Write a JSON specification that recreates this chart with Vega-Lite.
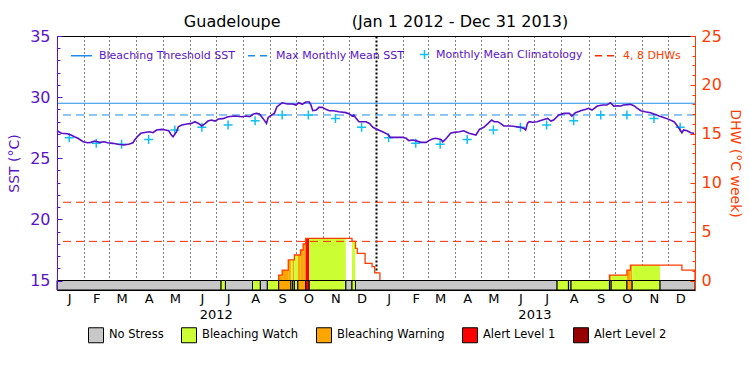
{
  "$schema": "https://vega.github.io/schema/vega-lite/v6.json",
  "width": 638,
  "height": 254,
  "autosize": "none",
  "padding": {"left": 57, "top": 36, "right": 55, "bottom": 85},
  "background": "white",
  "config": {
    "font": "DejaVu Sans",
    "view": {"stroke": "black", "strokeWidth": 1},
    "axis": {"labelFont": "DejaVu Sans", "titleFont": "DejaVu Sans", "titleFontWeight": "normal", "grid": false},
    "legend": {"labelFont": "DejaVu Sans"}
  },
  "title": {
    "text": "Guadeloupe\u00a0\u00a0\u00a0\u00a0\u00a0\u00a0\u00a0\u00a0\u00a0\u00a0\u00a0\u00a0\u00a0\u00a0(Jan 1 2012 - Dec 31 2013)",
    "fontSize": 16,
    "fontWeight": "normal",
    "color": "black",
    "font": "DejaVu Sans",
    "anchor": "middle",
    "offset": -2
  },
  "datasets": {
    "sst": [
      {"d": "2012-01-01", "v": 27.25}, {"d": "2012-01-06", "v": 27.04}, {"d": "2012-01-13", "v": 27.0}, {"d": "2012-01-17", "v": 26.9},
      {"d": "2012-01-21", "v": 26.76}, {"d": "2012-01-25", "v": 26.63}, {"d": "2012-01-31", "v": 26.35}, {"d": "2012-02-05", "v": 26.27},
      {"d": "2012-02-09", "v": 26.3}, {"d": "2012-02-13", "v": 26.41}, {"d": "2012-02-19", "v": 26.3}, {"d": "2012-02-24", "v": 26.35},
      {"d": "2012-02-28", "v": 26.27}, {"d": "2012-03-05", "v": 26.22}, {"d": "2012-03-11", "v": 26.14}, {"d": "2012-03-18", "v": 26.08},
      {"d": "2012-03-24", "v": 26.16}, {"d": "2012-03-28", "v": 26.27}, {"d": "2012-03-30", "v": 26.49}, {"d": "2012-04-02", "v": 26.76},
      {"d": "2012-04-06", "v": 27.04}, {"d": "2012-04-12", "v": 27.12}, {"d": "2012-04-16", "v": 27.17}, {"d": "2012-04-20", "v": 27.09},
      {"d": "2012-04-24", "v": 27.31}, {"d": "2012-04-30", "v": 27.36}, {"d": "2012-05-04", "v": 27.31}, {"d": "2012-05-08", "v": 27.25},
      {"d": "2012-05-11", "v": 26.9}, {"d": "2012-05-13", "v": 26.76}, {"d": "2012-05-17", "v": 27.17}, {"d": "2012-05-19", "v": 27.58},
      {"d": "2012-05-23", "v": 27.72}, {"d": "2012-05-29", "v": 27.8}, {"d": "2012-06-03", "v": 27.85}, {"d": "2012-06-07", "v": 27.99},
      {"d": "2012-06-11", "v": 27.85}, {"d": "2012-06-15", "v": 27.64}, {"d": "2012-06-19", "v": 27.85}, {"d": "2012-06-22", "v": 28.04},
      {"d": "2012-06-26", "v": 28.13}, {"d": "2012-06-30", "v": 28.04}, {"d": "2012-07-04", "v": 28.21}, {"d": "2012-07-09", "v": 28.24},
      {"d": "2012-07-15", "v": 28.4}, {"d": "2012-07-23", "v": 28.45}, {"d": "2012-07-31", "v": 28.4}, {"d": "2012-08-05", "v": 28.45},
      {"d": "2012-08-09", "v": 28.4}, {"d": "2012-08-13", "v": 28.62}, {"d": "2012-08-17", "v": 28.67}, {"d": "2012-08-20", "v": 28.62},
      {"d": "2012-08-24", "v": 28.26}, {"d": "2012-08-28", "v": 27.85}, {"d": "2012-08-30", "v": 28.34}, {"d": "2012-09-03", "v": 28.54},
      {"d": "2012-09-06", "v": 28.67}, {"d": "2012-09-09", "v": 29.22}, {"d": "2012-09-15", "v": 29.54}, {"d": "2012-09-21", "v": 29.44},
      {"d": "2012-09-27", "v": 29.44}, {"d": "2012-10-01", "v": 29.35}, {"d": "2012-10-04", "v": 29.54}, {"d": "2012-10-08", "v": 29.41},
      {"d": "2012-10-12", "v": 29.6}, {"d": "2012-10-16", "v": 29.6}, {"d": "2012-10-18", "v": 29.35}, {"d": "2012-10-20", "v": 28.89},
      {"d": "2012-10-24", "v": 28.94}, {"d": "2012-10-27", "v": 29.16}, {"d": "2012-10-31", "v": 29.16}, {"d": "2012-11-04", "v": 29.0},
      {"d": "2012-11-08", "v": 28.89}, {"d": "2012-11-13", "v": 28.89}, {"d": "2012-11-19", "v": 28.81}, {"d": "2012-11-27", "v": 28.73},
      {"d": "2012-12-01", "v": 28.62}, {"d": "2012-12-04", "v": 28.45}, {"d": "2012-12-06", "v": 28.54}, {"d": "2012-12-08", "v": 28.34},
      {"d": "2012-12-12", "v": 27.99}, {"d": "2012-12-20", "v": 27.99}, {"d": "2012-12-24", "v": 27.85}, {"d": "2012-12-28", "v": 27.53},
      {"d": "2013-01-02", "v": 27.36}, {"d": "2013-01-08", "v": 27.17}, {"d": "2013-01-14", "v": 26.95}, {"d": "2013-01-17", "v": 26.71},
      {"d": "2013-01-23", "v": 26.71}, {"d": "2013-01-31", "v": 26.71}, {"d": "2013-02-04", "v": 26.63}, {"d": "2013-02-07", "v": 26.44},
      {"d": "2013-02-11", "v": 26.49}, {"d": "2013-02-15", "v": 26.44}, {"d": "2013-02-21", "v": 26.3}, {"d": "2013-02-27", "v": 26.3},
      {"d": "2013-03-02", "v": 26.44}, {"d": "2013-03-06", "v": 26.57}, {"d": "2013-03-10", "v": 26.63}, {"d": "2013-03-16", "v": 26.54},
      {"d": "2013-03-18", "v": 26.35}, {"d": "2013-03-21", "v": 26.54}, {"d": "2013-03-27", "v": 27.04}, {"d": "2013-03-31", "v": 27.12},
      {"d": "2013-04-06", "v": 27.17}, {"d": "2013-04-11", "v": 27.25}, {"d": "2013-04-17", "v": 27.04}, {"d": "2013-04-25", "v": 26.9},
      {"d": "2013-04-29", "v": 27.36}, {"d": "2013-05-04", "v": 27.53}, {"d": "2013-05-09", "v": 27.85}, {"d": "2013-05-13", "v": 28.13},
      {"d": "2013-05-16", "v": 27.99}, {"d": "2013-05-20", "v": 27.99}, {"d": "2013-05-23", "v": 27.85}, {"d": "2013-05-27", "v": 27.64},
      {"d": "2013-06-04", "v": 27.64}, {"d": "2013-06-11", "v": 27.58}, {"d": "2013-06-15", "v": 27.53}, {"d": "2013-06-19", "v": 27.44},
      {"d": "2013-06-21", "v": 27.31}, {"d": "2013-06-23", "v": 27.85}, {"d": "2013-06-25", "v": 27.99}, {"d": "2013-06-29", "v": 27.94},
      {"d": "2013-07-04", "v": 27.99}, {"d": "2013-07-10", "v": 28.13}, {"d": "2013-07-16", "v": 28.26}, {"d": "2013-07-20", "v": 28.04},
      {"d": "2013-07-23", "v": 28.13}, {"d": "2013-07-29", "v": 28.54}, {"d": "2013-08-04", "v": 28.67}, {"d": "2013-08-10", "v": 28.67},
      {"d": "2013-08-13", "v": 28.45}, {"d": "2013-08-17", "v": 28.73}, {"d": "2013-08-23", "v": 28.89}, {"d": "2013-08-29", "v": 29.0},
      {"d": "2013-09-01", "v": 29.08}, {"d": "2013-09-05", "v": 28.94}, {"d": "2013-09-11", "v": 29.27}, {"d": "2013-09-17", "v": 29.35},
      {"d": "2013-09-22", "v": 29.35}, {"d": "2013-09-26", "v": 29.54}, {"d": "2013-09-30", "v": 29.27}, {"d": "2013-10-04", "v": 29.3},
      {"d": "2013-10-08", "v": 29.27}, {"d": "2013-10-11", "v": 29.35}, {"d": "2013-10-19", "v": 29.41}, {"d": "2013-10-23", "v": 29.3},
      {"d": "2013-10-27", "v": 29.08}, {"d": "2013-10-31", "v": 28.89}, {"d": "2013-11-05", "v": 28.81}, {"d": "2013-11-11", "v": 28.73},
      {"d": "2013-11-15", "v": 28.62}, {"d": "2013-11-21", "v": 28.45}, {"d": "2013-11-26", "v": 28.34}, {"d": "2013-12-02", "v": 28.18},
      {"d": "2013-12-08", "v": 27.99}, {"d": "2013-12-11", "v": 27.72}, {"d": "2013-12-15", "v": 27.31}, {"d": "2013-12-17", "v": 27.09},
      {"d": "2013-12-19", "v": 27.31}, {"d": "2013-12-23", "v": 27.25}, {"d": "2013-12-27", "v": 27.09}, {"d": "2013-12-31", "v": 27.04}
    ],
    "clim": [
      {"d": "2012-01-15", "v": 26.68}, {"d": "2012-02-15", "v": 26.22}, {"d": "2012-03-15", "v": 26.14}, {"d": "2012-04-15", "v": 26.54},
      {"d": "2012-05-15", "v": 27.31}, {"d": "2012-06-15", "v": 27.53}, {"d": "2012-07-15", "v": 27.72}, {"d": "2012-08-15", "v": 28.07},
      {"d": "2012-09-15", "v": 28.54}, {"d": "2012-10-15", "v": 28.54}, {"d": "2012-11-15", "v": 28.26}, {"d": "2012-12-15", "v": 27.53},
      {"d": "2013-01-15", "v": 26.68}, {"d": "2013-02-15", "v": 26.22}, {"d": "2013-03-15", "v": 26.14}, {"d": "2013-04-15", "v": 26.54},
      {"d": "2013-05-15", "v": 27.31}, {"d": "2013-06-15", "v": 27.53}, {"d": "2013-07-15", "v": 27.72}, {"d": "2013-08-15", "v": 28.07},
      {"d": "2013-09-15", "v": 28.54}, {"d": "2013-10-15", "v": 28.54}, {"d": "2013-11-15", "v": 28.26}, {"d": "2013-12-15", "v": 27.53}
    ],
    "status": [
      {"s": "2012-01-01", "e": "2012-07-07", "st": "No Stress"},
      {"s": "2012-07-07", "e": "2012-07-12", "st": "Bleaching Watch"},
      {"s": "2012-07-12", "e": "2012-08-12", "st": "No Stress"},
      {"s": "2012-08-12", "e": "2012-08-21", "st": "Bleaching Watch"},
      {"s": "2012-08-21", "e": "2012-08-29", "st": "No Stress"},
      {"s": "2012-08-29", "e": "2012-09-11", "st": "Bleaching Watch"},
      {"s": "2012-09-11", "e": "2012-09-25", "st": "Bleaching Warning"},
      {"s": "2012-09-25", "e": "2012-09-27", "st": "Bleaching Watch"},
      {"s": "2012-09-27", "e": "2012-09-29", "st": "Bleaching Warning"},
      {"s": "2012-09-29", "e": "2012-10-03", "st": "Bleaching Watch"},
      {"s": "2012-10-03", "e": "2012-10-12", "st": "Bleaching Warning"},
      {"s": "2012-10-12", "e": "2012-10-16", "st": "Alert Level 1"},
      {"s": "2012-10-16", "e": "2012-11-27", "st": "Bleaching Watch"},
      {"s": "2012-11-27", "e": "2012-12-04", "st": "No Stress"},
      {"s": "2012-12-04", "e": "2012-12-08", "st": "Bleaching Watch"},
      {"s": "2012-12-08", "e": "2013-07-27", "st": "No Stress"},
      {"s": "2013-07-27", "e": "2013-08-09", "st": "Bleaching Watch"},
      {"s": "2013-08-09", "e": "2013-08-12", "st": "No Stress"},
      {"s": "2013-08-12", "e": "2013-09-25", "st": "Bleaching Watch"},
      {"s": "2013-09-25", "e": "2013-09-27", "st": "Bleaching Warning"},
      {"s": "2013-09-27", "e": "2013-10-15", "st": "Bleaching Watch"},
      {"s": "2013-10-15", "e": "2013-10-21", "st": "Bleaching Warning"},
      {"s": "2013-10-21", "e": "2013-11-22", "st": "Bleaching Watch"},
      {"s": "2013-11-22", "e": "2014-01-01", "st": "No Stress"}
    ],
    "dhwfill": [
      {"s": "2012-09-11", "e": "2012-09-15", "dhw": 0.56, "st": "Bleaching Warning"},
      {"s": "2012-09-15", "e": "2012-09-22", "dhw": 1.07, "st": "Bleaching Warning"},
      {"s": "2012-09-22", "e": "2012-09-25", "dhw": 2.1, "st": "Bleaching Warning"},
      {"s": "2012-09-25", "e": "2012-09-27", "dhw": 2.1, "st": "Bleaching Watch"},
      {"s": "2012-09-27", "e": "2012-09-29", "dhw": 2.1, "st": "Bleaching Warning"},
      {"s": "2012-09-29", "e": "2012-10-03", "dhw": 2.61, "st": "Bleaching Watch"},
      {"s": "2012-10-03", "e": "2012-10-06", "dhw": 2.61, "st": "Bleaching Warning"},
      {"s": "2012-10-06", "e": "2012-10-09", "dhw": 3.12, "st": "Bleaching Warning"},
      {"s": "2012-10-09", "e": "2012-10-12", "dhw": 3.73, "st": "Bleaching Warning"},
      {"s": "2012-10-12", "e": "2012-10-16", "dhw": 4.31, "st": "Alert Level 1"},
      {"s": "2012-10-16", "e": "2012-11-27", "dhw": 4.31, "st": "Bleaching Watch"},
      {"s": "2012-11-27", "e": "2012-12-04", "dhw": 4.31, "st": "No Stress"},
      {"s": "2012-12-04", "e": "2012-12-08", "dhw": 4.0, "st": "Bleaching Watch"},
      {"s": "2012-12-08", "e": "2012-12-10", "dhw": 3.29, "st": "No Stress"},
      {"s": "2012-12-10", "e": "2012-12-19", "dhw": 2.78, "st": "No Stress"},
      {"s": "2012-12-19", "e": "2012-12-27", "dhw": 1.76, "st": "No Stress"},
      {"s": "2012-12-27", "e": "2012-12-30", "dhw": 1.41, "st": "No Stress"},
      {"s": "2012-12-30", "e": "2013-01-05", "dhw": 0.78, "st": "No Stress"},
      {"s": "2013-09-25", "e": "2013-09-27", "dhw": 0.56, "st": "Bleaching Warning"},
      {"s": "2013-09-27", "e": "2013-10-15", "dhw": 0.56, "st": "Bleaching Watch"},
      {"s": "2013-10-15", "e": "2013-10-19", "dhw": 1.07, "st": "Bleaching Warning"},
      {"s": "2013-10-19", "e": "2013-10-21", "dhw": 1.58, "st": "Bleaching Warning"},
      {"s": "2013-10-21", "e": "2013-11-22", "dhw": 1.58, "st": "Bleaching Watch"},
      {"s": "2013-11-22", "e": "2013-12-17", "dhw": 1.58, "st": "No Stress"},
      {"s": "2013-12-17", "e": "2014-01-01", "dhw": 1.07, "st": "No Stress"}
    ],
    "dhwline": [
      {"d": "2012-09-11", "dhw": 0, "ev": "a"}, {"d": "2012-09-11", "dhw": 0.56, "ev": "a"}, {"d": "2012-09-15", "dhw": 1.07, "ev": "a"},
      {"d": "2012-09-22", "dhw": 2.1, "ev": "a"}, {"d": "2012-09-29", "dhw": 2.61, "ev": "a"}, {"d": "2012-10-06", "dhw": 3.12, "ev": "a"},
      {"d": "2012-10-09", "dhw": 3.73, "ev": "a"}, {"d": "2012-10-12", "dhw": 4.31, "ev": "a"}, {"d": "2012-12-04", "dhw": 4.0, "ev": "a"},
      {"d": "2012-12-08", "dhw": 3.29, "ev": "a"}, {"d": "2012-12-10", "dhw": 2.78, "ev": "a"}, {"d": "2012-12-19", "dhw": 1.76, "ev": "a"},
      {"d": "2012-12-27", "dhw": 1.41, "ev": "a"}, {"d": "2012-12-30", "dhw": 0.78, "ev": "a"}, {"d": "2013-01-05", "dhw": 0, "ev": "a"},
      {"d": "2013-09-25", "dhw": 0, "ev": "b"}, {"d": "2013-09-25", "dhw": 0.56, "ev": "b"}, {"d": "2013-10-15", "dhw": 1.07, "ev": "b"},
      {"d": "2013-10-19", "dhw": 1.58, "ev": "b"}, {"d": "2013-12-17", "dhw": 1.07, "ev": "b"}, {"d": "2014-01-01", "dhw": 0, "ev": "b"}
    ]
  },
  "layer": [
    {
      "data": {"name": "dhwfill"},
      "mark": {"type": "rect", "strokeWidth": 0},
      "encoding": {
        "x": {"field": "s", "type": "temporal",
          "scale": {"type": "utc", "nice": false, "domain": [{"year": 2012, "month": 1, "date": 1, "utc": true}, {"year": 2014, "month": 1, "date": 1, "utc": true}]},
          "axis": {"orient": "bottom", "grid": true, "gridColor": "black", "gridDash": [1, 3], "gridWidth": 1, "gridOpacity": 1,
            "labels": false, "ticks": false, "domain": false, "title": null, "zindex": 0,
            "values": [
              {"year": 2012, "month": 2, "date": 1, "utc": true}, {"year": 2012, "month": 3, "date": 1, "utc": true}, {"year": 2012, "month": 4, "date": 1, "utc": true},
              {"year": 2012, "month": 5, "date": 1, "utc": true}, {"year": 2012, "month": 6, "date": 1, "utc": true}, {"year": 2012, "month": 7, "date": 1, "utc": true},
              {"year": 2012, "month": 8, "date": 1, "utc": true}, {"year": 2012, "month": 9, "date": 1, "utc": true}, {"year": 2012, "month": 10, "date": 1, "utc": true},
              {"year": 2012, "month": 11, "date": 1, "utc": true}, {"year": 2012, "month": 12, "date": 1, "utc": true},
              {"year": 2013, "month": 2, "date": 1, "utc": true}, {"year": 2013, "month": 3, "date": 1, "utc": true}, {"year": 2013, "month": 4, "date": 1, "utc": true},
              {"year": 2013, "month": 5, "date": 1, "utc": true}, {"year": 2013, "month": 6, "date": 1, "utc": true}, {"year": 2013, "month": 7, "date": 1, "utc": true},
              {"year": 2013, "month": 8, "date": 1, "utc": true}, {"year": 2013, "month": 9, "date": 1, "utc": true}, {"year": 2013, "month": 10, "date": 1, "utc": true},
              {"year": 2013, "month": 11, "date": 1, "utc": true}, {"year": 2013, "month": 12, "date": 1, "utc": true}
            ]}},
        "x2": {"field": "e"},
        "y": {"field": "dhw", "type": "quantitative",
          "scale": {"domain": [-0.971, 25], "nice": false, "zero": false},
          "axis": {"orient": "right", "values": [0,1,2,3,4,5,6,7,8,9,10,11,12,13,14,15,16,17,18,19,20,21,22,23,24,25],
            "labels": false, "domain": false, "tickSize": -3, "tickColor": "#ff3c00", "title": null, "grid": false, "zindex": 1}},
        "y2": {"datum": 0},
        "color": {"field": "st", "type": "nominal", "legend": null,
          "scale": {"domain": ["No Stress", "Bleaching Watch", "Bleaching Warning", "Alert Level 1"],
                    "range": ["#ffffff", "#ccff33", "#ffa500", "#ff0000"]}}
      }
    },
    {
      "data": {"values": [{"v": 29.5}]},
      "mark": {"type": "rule", "strokeWidth": 1},
      "encoding": {
        "y": {"field": "v", "type": "quantitative", "scale": {"domain": [14.223, 35], "nice": false, "zero": false}, "axis": null},
        "stroke": {"datum": "Bleaching Threshold SST",
          "scale": {"domain": ["Bleaching Threshold SST", "Max Monthly Mean SST", "Monthly Mean Climatology", "4, 8 DHWs"],
                    "range": ["#1e8ce8", "#1e8ce8", "#10c0f0", "#ff2a00"]},
          "legend": {"orient": "none", "legendX": 13, "legendY": 7, "direction": "horizontal", "title": null,
            "labelFontSize": 11, "labelFont": "DejaVu Sans", "symbolStrokeWidth": 1.5, "symbolSize": 440, "symbolType": "stroke",
            "columnPadding": 9, "labelOffset": 6,
            "encode": {
              "symbols": {"update": {
                "shape": {"signal": "datum.value === 'Monthly Mean Climatology' ? 'M-1,0L1,0M0,-1L0,1' : 'stroke'"},
                "size": {"signal": "datum.value === 'Monthly Mean Climatology' ? 81 : 440"},
                "strokeDash": {"signal": "(datum.value === 'Max Monthly Mean SST' || datum.value === '4, 8 DHWs') ? [7, 5] : [30, 0]"}
              }},
              "labels": {"update": {
                "fill": {"signal": "datum.value === '4, 8 DHWs' ? '#ff3c00' : '#5a14c8'"},
                "dx": {"signal": "datum.value === 'Monthly Mean Climatology' ? -6 : 0"}
              }}
            }}}
      }
    },
    {
      "data": {"values": [{"v": 28.54}]},
      "mark": {"type": "rule", "strokeWidth": 1, "strokeDash": [8, 5]},
      "encoding": {
        "y": {"field": "v", "type": "quantitative", "scale": {"domain": [14.223, 35], "nice": false, "zero": false}, "axis": null},
        "stroke": {"datum": "Max Monthly Mean SST"}
      }
    },
    {
      "data": {"values": [{"v": 4}, {"v": 8}]},
      "mark": {"type": "rule", "strokeWidth": 1, "strokeDash": [8, 5]},
      "encoding": {
        "y": {"field": "v", "type": "quantitative", "scale": {"domain": [-0.971, 25], "nice": false, "zero": false}, "axis": null},
        "stroke": {"datum": "4, 8 DHWs"}
      }
    },
    {
      "data": {"name": "dhwline"},
      "mark": {"type": "line", "interpolate": "step-after", "strokeWidth": 1.3, "color": "#ff3c00"},
      "encoding": {
        "x": {"field": "d", "type": "temporal",
          "scale": {"type": "utc", "nice": false, "domain": [{"year": 2012, "month": 1, "date": 1, "utc": true}, {"year": 2014, "month": 1, "date": 1, "utc": true}]},
          "axis": {"orient": "bottom", "grid": true, "gridColor": "black", "gridDash": [2, 2], "gridWidth": 2, "gridOpacity": 1,
            "labels": false, "ticks": false, "domain": false, "title": null, "zindex": 0,
            "values": [{"year": 2013, "month": 1, "date": 1, "utc": true}]}},
        "y": {"field": "dhw", "type": "quantitative",
          "scale": {"domain": [-0.971, 25], "nice": false, "zero": false},
          "axis": {"orient": "right", "values": [0, 5, 10, 15, 20, 25], "title": "DHW (°C week)", "titleColor": "#ff3c00", "titleFontSize": 14,
            "titlePadding": 6, "labelColor": "#ff3c00", "labelFontSize": 16, "labelPadding": 11, "tickSize": -5, "tickColor": "#ff3c00",
            "domainColor": "#ff3c00", "grid": false, "zindex": 1}},
        "detail": {"field": "ev"}
      }
    },
    {
      "data": {"name": "status"},
      "mark": {"type": "rect", "stroke": "black", "strokeWidth": 1},
      "encoding": {
        "x": {"field": "s", "type": "temporal",
          "scale": {"type": "utc", "nice": false, "domain": [{"year": 2012, "month": 1, "date": 1, "utc": true}, {"year": 2014, "month": 1, "date": 1, "utc": true}]},
          "axis": null},
        "x2": {"field": "e"},
        "y": {"datum": -0.971, "type": "quantitative", "scale": {"domain": [-0.971, 25], "nice": false, "zero": false}, "axis": null},
        "y2": {"datum": 0},
        "fill": {"field": "st", "type": "nominal",
          "scale": {"domain": ["No Stress", "Bleaching Watch", "Bleaching Warning", "Alert Level 1", "Alert Level 2"],
                    "range": ["#c8c8c8", "#ccff33", "#ffa500", "#ff0000", "#960000"]},
          "legend": {"orient": "none", "legendX": 31, "legendY": 291, "direction": "horizontal", "title": null,
            "symbolType": "square", "symbolSize": 225, "symbolStrokeColor": "black", "symbolStrokeWidth": 1, "symbolOpacity": 1,
            "labelFontSize": 11.5, "labelOffset": 5, "columnPadding": 15, "labelColor": "black"}}
      }
    },
    {
      "data": {"name": "clim"},
      "mark": {"type": "point", "shape": "M-1,0L1,0M0,-1L0,1", "size": 81, "strokeWidth": 1.5, "filled": false, "opacity": 1},
      "encoding": {
        "x": {"field": "d", "type": "temporal",
          "scale": {"type": "utc", "nice": false, "domain": [{"year": 2012, "month": 1, "date": 1, "utc": true}, {"year": 2014, "month": 1, "date": 1, "utc": true}]},
          "axis": {"orient": "bottom", "values": [{"year": 2012, "month": 7, "date": 1, "utc": true}, {"year": 2013, "month": 7, "date": 1, "utc": true}],
            "labelExpr": "utcFormat(datum.value, '%Y')", "labelPadding": 18, "labelFontSize": 13, "labelColor": "black",
            "ticks": false, "domain": false, "grid": false, "title": null, "labelFlush": false, "labelOverlap": false}},
        "y": {"field": "v", "type": "quantitative",
          "scale": {"domain": [14.223, 35], "nice": false, "zero": false},
          "axis": {"orient": "left", "values": [15,16,17,18,19,20,21,22,23,24,25,26,27,28,29,30,31,32,33,34,35],
            "labels": false, "domain": false, "tickSize": -3, "tickColor": "#5a14c8", "title": null, "grid": false, "zindex": 1}},
        "stroke": {"datum": "Monthly Mean Climatology"}
      }
    },
    {
      "data": {"name": "sst"},
      "mark": {"type": "line", "strokeWidth": 1.6, "color": "#5a0fc8"},
      "encoding": {
        "x": {"field": "d", "type": "temporal",
          "scale": {"type": "utc", "nice": false, "domain": [{"year": 2012, "month": 1, "date": 1, "utc": true}, {"year": 2014, "month": 1, "date": 1, "utc": true}]},
          "axis": {"orient": "bottom",
            "values": [
              {"year": 2012, "month": 1, "date": 15, "utc": true}, {"year": 2012, "month": 2, "date": 15, "utc": true}, {"year": 2012, "month": 3, "date": 15, "utc": true},
              {"year": 2012, "month": 4, "date": 15, "utc": true}, {"year": 2012, "month": 5, "date": 15, "utc": true}, {"year": 2012, "month": 6, "date": 15, "utc": true},
              {"year": 2012, "month": 7, "date": 15, "utc": true}, {"year": 2012, "month": 8, "date": 15, "utc": true}, {"year": 2012, "month": 9, "date": 15, "utc": true},
              {"year": 2012, "month": 10, "date": 15, "utc": true}, {"year": 2012, "month": 11, "date": 15, "utc": true}, {"year": 2012, "month": 12, "date": 15, "utc": true},
              {"year": 2013, "month": 1, "date": 15, "utc": true}, {"year": 2013, "month": 2, "date": 15, "utc": true}, {"year": 2013, "month": 3, "date": 15, "utc": true},
              {"year": 2013, "month": 4, "date": 15, "utc": true}, {"year": 2013, "month": 5, "date": 15, "utc": true}, {"year": 2013, "month": 6, "date": 15, "utc": true},
              {"year": 2013, "month": 7, "date": 15, "utc": true}, {"year": 2013, "month": 8, "date": 15, "utc": true}, {"year": 2013, "month": 9, "date": 15, "utc": true},
              {"year": 2013, "month": 10, "date": 15, "utc": true}, {"year": 2013, "month": 11, "date": 15, "utc": true}, {"year": 2013, "month": 12, "date": 15, "utc": true}
            ],
            "labelExpr": "substring(utcFormat(datum.value, '%b'), 0, 1)", "labelPadding": 2, "labelFontSize": 13, "labelColor": "black",
            "ticks": false, "domain": false, "grid": false, "title": null, "labelFlush": false, "labelOverlap": false}},
        "y": {"field": "v", "type": "quantitative",
          "scale": {"domain": [14.223, 35], "nice": false, "zero": false},
          "axis": {"orient": "left", "values": [15, 20, 25, 30, 35], "title": "SST (°C)", "titleColor": "#5a14c8", "titleFontSize": 14,
            "titlePadding": 8, "labelColor": "#5a14c8", "labelFontSize": 16, "labelPadding": 12, "tickSize": -5, "tickColor": "#5a14c8",
            "domainColor": "#5a14c8", "grid": false, "zindex": 1}}
      }
    }
  ],
  "resolve": {"scale": {"y": "independent"}, "axis": {"x": "independent", "y": "independent"}}
}
